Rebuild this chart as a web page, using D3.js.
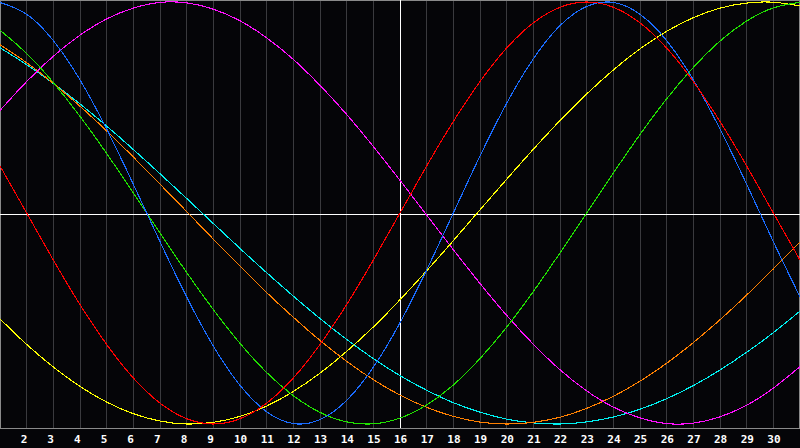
<!DOCTYPE html>
<html>
<head>
<meta charset="utf-8">
<script src="https://cdn.jsdelivr.net/npm/d3@7"></script>
<style>
  html, body { margin: 0; padding: 0; background: #050508; }
  svg { display: block; }
</style>
</head>
<body>
<svg id="chart" width="800" height="448"></svg>
<script>
// Days shown on the x axis (1..31); tick labels 2..30
const days = d3.range(1, 32);
const tickDays = d3.range(2, 31);
const markerDay = 16;

// Series values (percent, -100..100), one per day 1..31
const blueValues = [99.8, 94.2, 81.7, 63.1, 39.8, 13.6, -13.6, -39.8, -63.1, -81.7, -94.2, -99.8, -97.9, -88.8, -73.1, -52.0, -27.0, 0, 27.0, 52.0, 73.1, 88.8, 97.9, 99.8, 94.2, 81.7, 63.1, 39.8, 13.6, -13.6, -39.8];
const redValues = [22.3, 0, -22.3, -43.4, -62.3, -78.2, -90.1, -97.5, -100, -97.5, -90.1, -78.2, -62.3, -43.4, -22.3, 0, 22.3, 43.4, 62.3, 78.2, 90.1, 97.5, 100, 97.5, 90.1, 78.2, 62.3, 43.4, 22.3, 0, -22.3];
const greenValues = [86.6, 75.6, 61.8, 45.8, 28.2, 9.5, -9.5, -28.2, -45.8, -61.8, -75.6, -86.6, -94.5, -99.0, -99.9, -97.2, -91.0, -81.5, -69.0, -54.1, -37.2, -18.9, 0, 18.9, 37.2, 54.1, 69.0, 81.5, 91.0, 97.2, 99.9];
const magentaValues = [48.6, 62.3, 74.3, 84.3, 92.0, 97.1, 99.8, 99.6, 96.6, 91.1, 83.0, 72.8, 60.5, 46.7, 31.5, 15.5, -1.0, -17.4, -33.4, -48.5, -62.2, -74.3, -84.3, -92.0, -97.1, -99.8, -99.6, -96.6, -91.1, -83.0, -72.8];
const yellowValues = [-50.2, -62.3, -73.0, -82.2, -89.6, -95.1, -98.6, -100.0, -99.2, -96.4, -91.5, -84.6, -75.9, -65.6, -54.0, -41.1, -27.4, -13.1, 1.5, 16.0, 30.2, 43.8, 56.4, 67.8, 77.8, 86.1, 92.6, 97.1, 99.5, 99.9, 98.1];
const orangeValues = [79.7, 71.2, 61.4, 50.6, 38.9, 26.5, 13.7, 0.7, -12.4, -25.2, -37.7, -49.4, -60.4, -70.3, -79.0, -86.3, -92.1, -96.4, -99.1, -100.0, -99.2, -96.8, -92.6, -86.9, -79.7, -71.2, -61.4, -50.6, -38.9, -26.5, -13.7];
const cyanValues = [78.3, 70.3, 61.4, 51.7, 41.2, 30.1, 18.6, 6.9, -5.0, -16.8, -28.3, -39.4, -50.0, -59.9, -69.0, -77.1, -84.0, -89.9, -94.4, -97.7, -99.5, -100.0, -99.0, -96.7, -93.0, -88.0, -81.8, -74.4, -66.0, -56.7, -46.5];

const seriesNames = ["cyan", "orange", "magenta", "yellow", "green", "blue", "red"];
const seriesValues = [cyanValues, orangeValues, magentaValues, yellowValues, greenValues, blueValues, redValues];
const seriesColors = ["#00f0f0", "#ff8000", "#ff10ff", "#ffff00", "#20e000", "#1a6cff", "#ff0000"];

const W = 800, H = 448;
const plotBottom = 428;

const svg = d3.select("#chart");

svg.append("rect").attr("x", 0).attr("y", 0).attr("width", W).attr("height", H).attr("fill", "#050508");

const x = d3.scaleLinear().domain([1, 31]).range([0, 800]);
const y = d3.scaleLinear().domain([-100, 100]).range([424, 2]);

// vertical grid lines
svg.append("g").selectAll("line").data(tickDays).join("line")
  .attr("x1", d => Math.floor(x(d)) + 0.5).attr("x2", d => Math.floor(x(d)) + 0.5)
  .attr("y1", 0).attr("y2", plotBottom)
  .attr("stroke", "#3a3a3e").attr("stroke-width", 1)
  .attr("shape-rendering", "crispEdges");

// plot frame
svg.append("rect")
  .attr("x", 0.5).attr("y", 0.5).attr("width", W - 1.5).attr("height", plotBottom)
  .attr("fill", "none").attr("stroke", "#8a8a8a").attr("stroke-width", 1)
  .attr("shape-rendering", "crispEdges");

// white cross at the marker day and zero line
const midY = Math.round(y(0)) + 1.5;
svg.append("line")
  .attr("x1", 0).attr("x2", W).attr("y1", midY).attr("y2", midY)
  .attr("stroke", "#ffffff").attr("stroke-width", 1).attr("shape-rendering", "crispEdges");
svg.append("line")
  .attr("x1", Math.floor(x(markerDay)) + 0.5).attr("x2", Math.floor(x(markerDay)) + 0.5)
  .attr("y1", 0).attr("y2", plotBottom)
  .attr("stroke", "#ffffff").attr("stroke-width", 1).attr("shape-rendering", "crispEdges");

// curves
const line = d3.line()
  .x((d, i) => x(days[i]))
  .y(d => y(d))
  .curve(d3.curveNatural);

svg.append("g").selectAll("path").data(seriesValues).join("path")
  .attr("d", d => line(d))
  .attr("fill", "none")
  .attr("stroke", (d, i) => seriesColors[i])
  .attr("stroke-width", 1.1)
  .attr("shape-rendering", "crispEdges");

// x axis labels
svg.append("g").selectAll("text").data(tickDays).join("text")
  .attr("x", d => x(d) - 6)
  .attr("y", 443)
  .attr("fill", "#ffffff")
  .attr("font-family", "'DejaVu Sans Mono', monospace")
  .attr("font-weight", "bold")
  .attr("font-size", 11)
  .attr("text-anchor", "start")
  .text(d => d);
</script>
</body>
</html>
